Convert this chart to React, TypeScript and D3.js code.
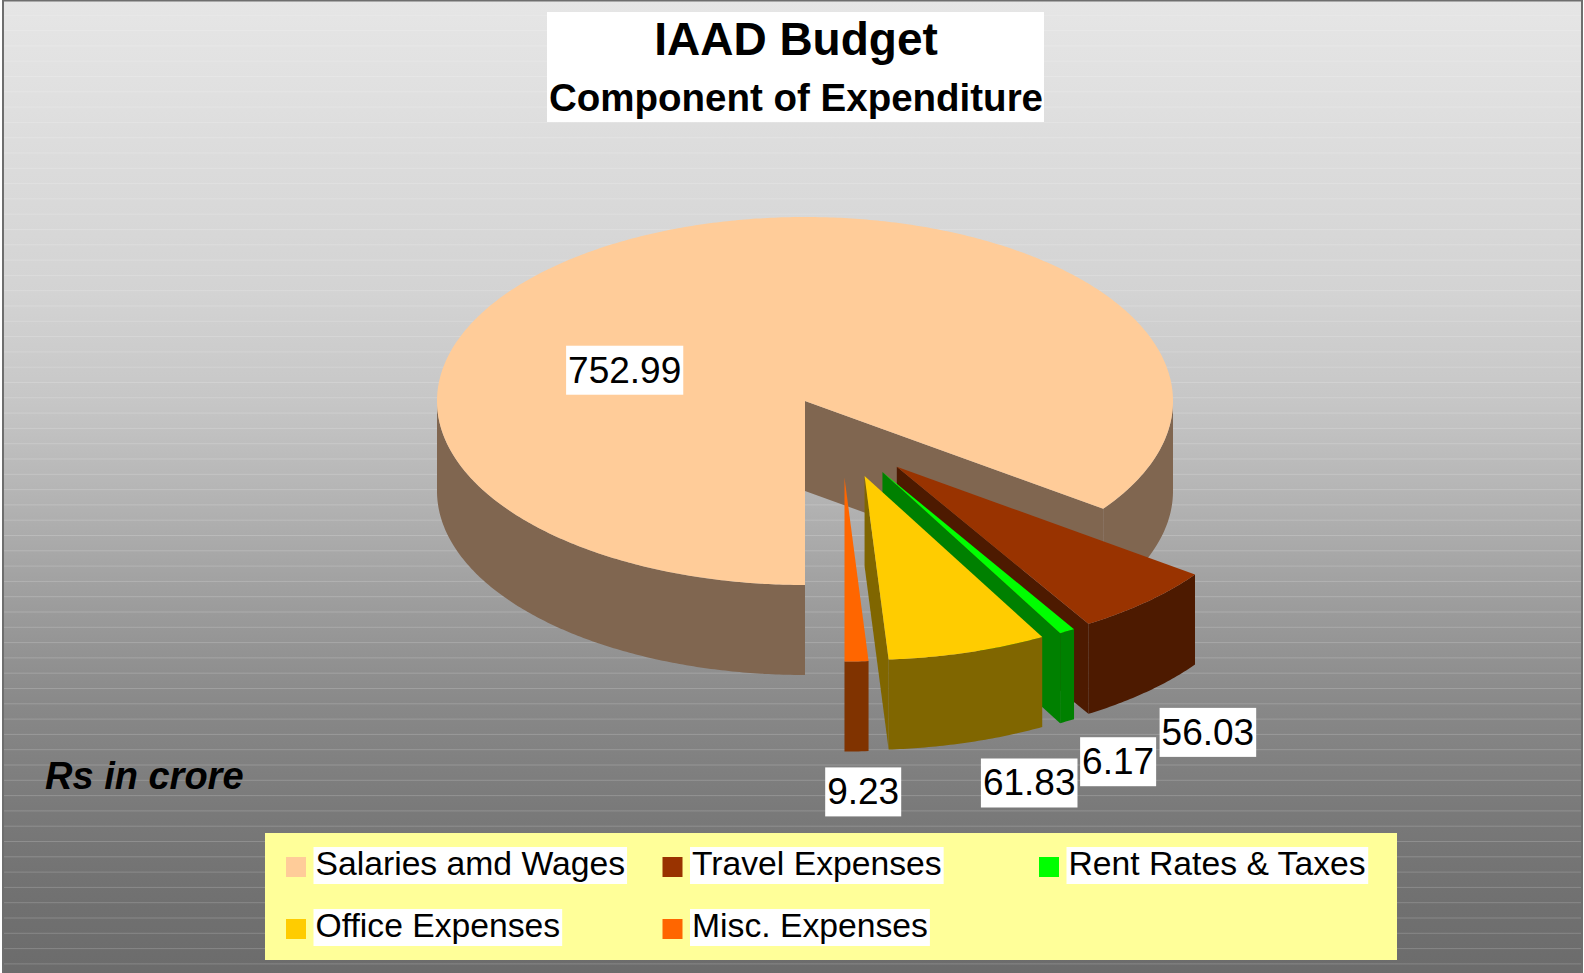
import * as d3 from "d3";

// chart data
const categories = [
  "Salaries amd Wages",
  "Travel Expenses",
  "Rent Rates & Taxes",
  "Office Expenses",
  "Misc. Expenses",
];
const values = [752.99, 56.03, 6.17, 61.83, 9.23];
const valueLabels = ["752.99", "56.03", "6.17", "61.83", "9.23"];
const exploded = [false, true, true, true, true];

// styles
const topColors = ["#FFCC99", "#993300", "#00FF00", "#FFCC00", "#FF6600"];
const sideColors = ["#806650", "#4D1A00", "#008000", "#806600", "#803300"];

const W = 1584;
const H = 973;
const cx = 805;
const cy = 401;
const rx = 368;
const ry = 184;
const depth = 90;
const explode = 0.22;
const insideLabelShift = [-0.49, -0.17];

const FONT = "'Liberation Sans', Arial, sans-serif";

const ctx = document.createElement("canvas").getContext("2d");
function textWidth(s: string, font: string) {
  if (!ctx) return s.length * 18;
  ctx.font = font;
  return ctx.measureText(s).width;
}

type Pt = [number, number];

const App = () => {
  const arcs = d3
    .pie<number>()
    .sort(null)
    .startAngle(Math.PI)
    .endAngle(3 * Math.PI)(values);

  const ex = arcs.filter((_, i) => exploded[i]);
  const gMid =
    (d3.min(ex, (a) => a.startAngle)! + d3.max(ex, (a) => a.endAngle)!) / 2;

  const line = d3.line<Pt>();
  const closed = (pts: Pt[]) => line(pts) + "Z";

  const pt = (a: number, r: number, z: number, off: Pt): Pt => [
    cx + off[0] + r * rx * Math.sin(a),
    cy + off[1] - r * ry * Math.cos(a) + z,
  ];
  const arcPts = (a0: number, a1: number, z: number, off: Pt): Pt[] => {
    const n = Math.max(2, Math.ceil(Math.abs(a1 - a0) / 0.01));
    return d3.range(n + 1).map((i) => pt(a0 + ((a1 - a0) * i) / n, 1, z, off));
  };

  const slices = arcs.map((a, i) => {
    const mid = (a.startAngle + a.endAngle) / 2;
    const off: Pt = exploded[i]
      ? [
          explode * (Math.sin(gMid) + Math.sin(mid)) * rx,
          explode * (-Math.cos(gMid) - Math.cos(mid)) * ry,
        ]
      : [0, 0];
    const a0 = a.startAngle;
    const a1 = a.endAngle;
    const apexTop = pt(0, 0, 0, off);
    const apexBot = pt(0, 0, depth, off);

    // visible outer rim: angles between 90° and 270° (mod 360°)
    const rims: string[] = [];
    [0, 1].forEach((k) => {
      const s = Math.max(a0, Math.PI / 2 + 2 * Math.PI * k);
      const e = Math.min(a1, (3 * Math.PI) / 2 + 2 * Math.PI * k);
      if (e > s) {
        rims.push(
          closed([...arcPts(s, e, 0, off), ...arcPts(s, e, depth, off).reverse()])
        );
      }
    });

    const walls: string[] = [];
    if (Math.sin(a1) > 1e-6) {
      walls.push(closed([apexTop, pt(a1, 1, 0, off), pt(a1, 1, depth, off), apexBot]));
    }
    if (Math.sin(a0) < -1e-6) {
      walls.push(closed([apexTop, pt(a0, 1, 0, off), pt(a0, 1, depth, off), apexBot]));
    }

    const top = closed([apexTop, ...arcPts(a0, a1, 0, off)]);

    // value label
    const w = textWidth(valueLabels[i], "37px 'Liberation Sans'") + 4;
    let lx: number;
    let ly: number;
    if (exploded[i]) {
      const p = pt(mid, 1, depth, off);
      const t = Math.max(-1, Math.min(1, Math.sin(mid) / 0.25));
      lx = p[0] + t * (w / 2 + 13);
      ly = p[1] + 16;
    } else {
      lx = cx + insideLabelShift[0] * rx;
      ly = cy + insideLabelShift[1] * ry - 24;
    }
    return { i, rims, walls, top, lx, ly, w };
  });

  const stripes = d3.range(1, 64).map((k) => k * 15.3);

  const legendX = 286;
  const legendY = 857;
  const colStep = 376.5;
  const rowStep = 62;

  return (
    <svg
      width={W}
      height={H}
      style={{ position: "absolute", left: 0, top: 0, display: "block" }}
    >
      <defs>
        <linearGradient id="bg" x1="0" y1="0" x2="0" y2="1">
          <stop offset="0" stopColor="#E6E6E6" />
          <stop offset="0.3" stopColor="#D3D3D3" />
          <stop offset="0.41" stopColor="#C6C6C6" />
          <stop offset="0.514" stopColor="#B2B2B2" />
          <stop offset="0.617" stopColor="#9C9C9C" />
          <stop offset="0.72" stopColor="#888888" />
          <stop offset="0.82" stopColor="#7A7A7A" />
          <stop offset="0.91" stopColor="#717171" />
          <stop offset="1" stopColor="#6B6B6B" />
        </linearGradient>
      </defs>
      <rect x={3} y={0.5} width={1579} height={H + 10} fill="url(#bg)" stroke="#6E6E6E" strokeWidth={2} />
      {stripes.map((y) => (
        <line key={y} x1={4} x2={1581} y1={y} y2={y} stroke="#fff" strokeOpacity={0.18} strokeWidth={1} />
      ))}

      {/* title */}
      <rect x={547} y={12} width={497} height={110} fill="#fff" />
      <text x={796} y={55} textAnchor="middle" fontFamily={FONT} fontWeight="bold" fontSize={46}>
        IAAD Budget
      </text>
      <text x={796} y={111} textAnchor="middle" fontFamily={FONT} fontWeight="bold" fontSize={38.5}>
        Component of Expenditure
      </text>

      {/* 3d pie */}
      {slices.map((s) => (
        <g key={categories[s.i]}>
          {s.rims.map((d, k) => (
            <path key={"r" + k} d={d} fill={sideColors[s.i]} />
          ))}
          {s.walls.map((d, k) => (
            <path key={"w" + k} d={d} fill={sideColors[s.i]} />
          ))}
          <path d={s.top} fill={topColors[s.i]} />
        </g>
      ))}

      {/* value labels */}
      {slices.map((s) => (
        <g key={"l" + s.i}>
          <rect x={s.lx - s.w / 2} y={s.ly} width={s.w} height={49} fill="#fff" />
          <text x={s.lx} y={s.ly + 37} textAnchor="middle" fontFamily={FONT} fontSize={37}>
            {valueLabels[s.i]}
          </text>
        </g>
      ))}

      <text x={45} y={789} fontFamily={FONT} fontWeight="bold" fontStyle="italic" fontSize={38}>
        Rs in crore
      </text>

      {/* legend */}
      <rect x={265} y={833} width={1132} height={127} fill="#FFFF99" />
      {categories.map((c, i) => {
        const col = i % 3;
        const row = Math.floor(i / 3);
        const sx = legendX + col * colStep;
        const sy = legendY + row * rowStep;
        const tw = textWidth(c, "33.7px 'Liberation Sans'");
        const base = 875 + row * rowStep;
        return (
          <g key={c}>
            <rect x={sx} y={sy} width={20} height={20} fill={topColors[i]} />
            <rect x={sx + 27.5} y={base - 28} width={tw + 4} height={37} fill="#fff" />
            <text x={sx + 29.5} y={base} fontFamily={FONT} fontSize={33.7}>
              {c}
            </text>
          </g>
        );
      })}
    </svg>
  );
};

export default App;
